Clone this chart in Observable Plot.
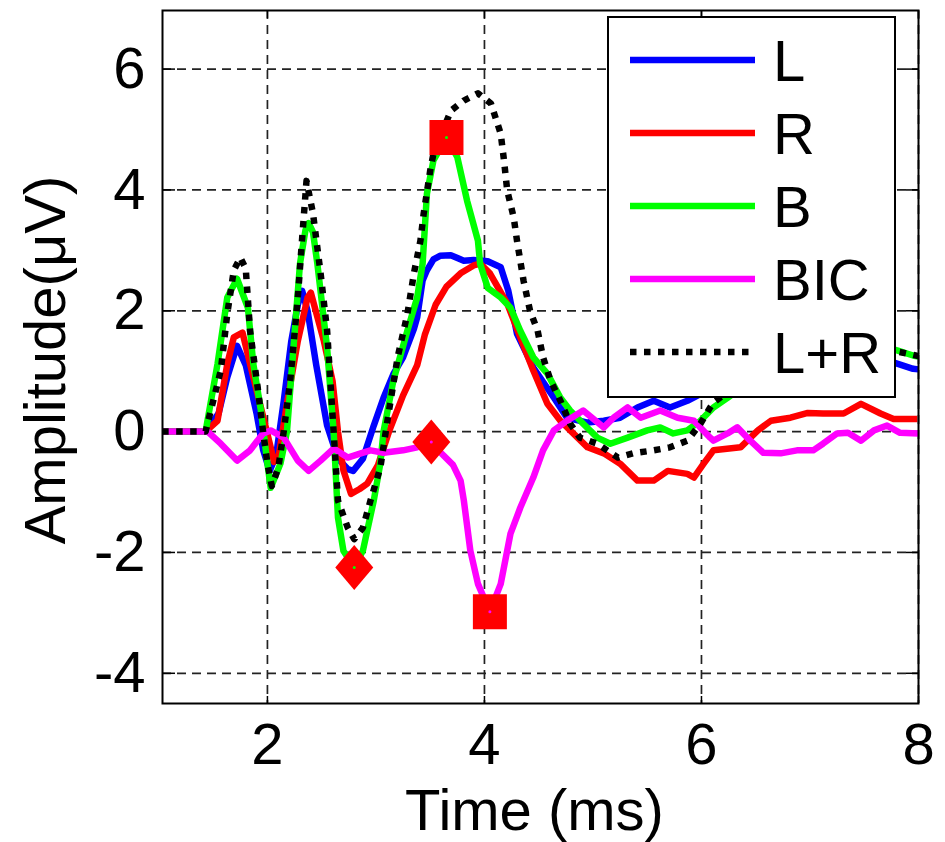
<!DOCTYPE html>
<html>
<head>
<meta charset="utf-8">
<script src="https://cdn.jsdelivr.net/npm/d3@7"></script>
<script src="https://cdn.jsdelivr.net/npm/@observablehq/plot@0.6"></script>
<style>
  html, body { margin: 0; padding: 0; background: white; }
  #wrap { position: relative; width: 945px; height: 842px; font-family: 'Liberation Sans', Arial, sans-serif; }
  #legend { position: absolute; left: 607px; top: 16px; width: 289px; height: 382px; box-sizing: border-box;
            border: 2px solid black; background: white; }
</style>
</head>
<body>
<div id="wrap"></div>
<script>
// ---- Data ----
const xTicks = [2, 4, 6, 8];
const yTicks = [-4, -2, 0, 2, 4, 6];
const xLabel = "Time (ms)";
const yLabel = "Amplitude(μV)";

const seriesNames = ["L", "R", "B", "BIC", "L+R"];
const seriesColors = ["#0000ff", "#ff0000", "#00ff00", "#ff00ff", "#000000"];

// L (blue)
const tL = [1.03, 1.43, 1.55, 1.63, 1.72, 1.80, 1.90, 1.96, 2.02, 2.08, 2.15, 2.22, 2.28, 2.32, 2.37, 2.45, 2.55, 2.65, 2.74, 2.79, 2.88, 2.98, 3.07, 3.16, 3.25, 3.35, 3.38, 3.43, 3.47, 3.53, 3.59, 3.69, 3.81, 3.90, 4.03, 4.15, 4.22, 4.30, 4.45, 4.64, 4.76, 4.95, 5.10, 5.25, 5.41, 5.56, 5.71, 5.87, 6.02, 6.3, 6.7, 7.1, 7.5, 7.81, 7.95, 8.0];
const vL = [0, 0, 0.3, 0.9, 1.42, 1.1, 0.3, -0.3, -0.65, -0.4, 0.5, 1.5, 2.1, 2.33, 2.0, 1.1, 0.1, -0.45, -0.62, -0.65, -0.45, 0.1, 0.56, 0.95, 1.23, 1.7, 1.89, 2.5, 2.67, 2.85, 2.91, 2.92, 2.83, 2.84, 2.82, 2.72, 2.33, 1.62, 1.06, 0.56, 0.23, 0.15, 0.18, 0.23, 0.4, 0.51, 0.4, 0.51, 0.65, 0.8, 1.0, 1.2, 1.3, 1.12, 1.04, 1.03];

// R (red)
const tR = [1.03, 1.43, 1.54, 1.63, 1.69, 1.77, 1.84, 1.94, 2.03, 2.06, 2.10, 2.18, 2.28, 2.37, 2.40, 2.46, 2.52, 2.60, 2.65, 2.70, 2.77, 2.85, 2.92, 3.02, 3.12, 3.25, 3.38, 3.45, 3.55, 3.65, 3.78, 3.90, 3.96, 4.05, 4.21, 4.33, 4.45, 4.58, 4.70, 4.79, 4.95, 5.10, 5.25, 5.41, 5.56, 5.69, 5.87, 5.93, 6.02, 6.11, 6.36, 6.52, 6.64, 6.82, 6.98, 7.12, 7.31, 7.47, 7.65, 7.77, 7.99];
const vR = [0, 0, 0.18, 1.12, 1.56, 1.64, 1.12, 0.4, -0.26, -0.5, -0.45, 0.46, 1.5, 2.22, 2.3, 1.9, 1.5, 0.84, 0, -0.64, -1.03, -0.95, -0.86, -0.55, 0, 0.6, 1.1, 1.6, 2.1, 2.4, 2.62, 2.75, 2.78, 2.62, 2.12, 1.56, 1.01, 0.46, 0.18, 0.02, -0.26, -0.36, -0.53, -0.81, -0.81, -0.65, -0.7, -0.76, -0.53, -0.31, -0.26, 0.02, 0.18, 0.23, 0.31, 0.3, 0.3, 0.46, 0.3, 0.21, 0.21];

// B (green)
const tB = [1.03, 1.43, 1.54, 1.63, 1.72, 1.82, 1.87, 1.94, 2.00, 2.03, 2.12, 2.18, 2.24, 2.30, 2.35, 2.38, 2.42, 2.46, 2.55, 2.61, 2.65, 2.70, 2.80, 2.88, 2.98, 3.04, 3.07, 3.16, 3.29, 3.38, 3.43, 3.47, 3.53, 3.65, 3.75, 3.84, 3.94, 3.96, 4.03, 4.15, 4.24, 4.33, 4.45, 4.58, 4.70, 4.79, 4.91, 5.04, 5.16, 5.32, 5.50, 5.62, 5.74, 5.87, 5.99, 6.11, 6.24, 6.5, 6.9, 7.3, 7.6, 7.81, 7.95, 8.0];
const vB = [0, 0, 1.12, 2.22, 2.53, 2.05, 1.12, 0.35, -0.53, -0.93, -0.53, 0, 1.39, 2.78, 3.33, 3.45, 3.3, 2.78, 1.39, 0, -1.42, -1.97, -2.25, -1.97, -1.14, -0.53, 0, 0.84, 1.67, 2.22, 2.78, 3.94, 4.49, 4.87, 4.54, 3.82, 3.16, 2.78, 2.38, 2.22, 2.05, 1.67, 1.23, 0.96, 0.56, 0.35, 0.13, -0.1, -0.2, -0.1, 0.02, 0.07, -0.03, 0.02, 0.18, 0.4, 0.56, 0.9, 1.2, 1.4, 1.45, 1.34, 1.26, 1.24];

// BIC (magenta)
const tBIC = [1.03, 1.45, 1.57, 1.72, 1.84, 1.96, 2.03, 2.15, 2.28, 2.38, 2.49, 2.61, 2.74, 2.86, 2.95, 3.07, 3.25, 3.38, 3.51, 3.57, 3.71, 3.78, 3.81, 3.87, 3.94, 4.05, 4.15, 4.24, 4.33, 4.45, 4.54, 4.64, 4.76, 4.91, 5.10, 5.19, 5.32, 5.44, 5.62, 5.78, 5.93, 6.08, 6.11, 6.24, 6.33, 6.45, 6.57, 6.73, 6.88, 7.03, 7.12, 7.25, 7.35, 7.47, 7.59, 7.71, 7.83, 8.0];
const vBIC = [0, 0, -0.2, -0.48, -0.31, -0.03, 0.02, -0.1, -0.48, -0.65, -0.48, -0.28, -0.43, -0.36, -0.31, -0.35, -0.31, -0.26, -0.17, -0.3, -0.55, -0.81, -1.14, -1.97, -2.52, -2.98, -2.52, -1.69, -1.26, -0.76, -0.31, 0.02, 0.18, 0.35, 0.07, 0.23, 0.4, 0.23, 0.35, 0.23, 0.18, -0.1, -0.15, -0.03, 0.07, -0.15, -0.35, -0.36, -0.31, -0.31, -0.2, -0.03, -0.02, -0.15, 0.02, 0.1, -0.02, -0.03];

// L+R (black dotted)
const tLR = [1.03, 1.43, 1.57, 1.63, 1.69, 1.75, 1.80, 1.84, 1.91, 1.96, 2.00, 2.04, 2.10, 2.15, 2.21, 2.28, 2.32, 2.36, 2.42, 2.49, 2.55, 2.61, 2.65, 2.74, 2.80, 2.88, 2.95, 3.04, 3.11, 3.20, 3.29, 3.35, 3.41, 3.44, 3.50, 3.53, 3.69, 3.81, 3.94, 4.06, 4.15, 4.18, 4.21, 4.27, 4.30, 4.36, 4.42, 4.49, 4.54, 4.61, 4.70, 4.79, 4.88, 5.04, 5.23, 5.37, 5.56, 5.71, 5.87, 5.99, 6.08, 6.11, 6.2, 6.5, 6.9, 7.3, 7.6, 7.9, 8.0];
const vLR = [0, 0, 1.01, 1.95, 2.67, 2.88, 2.7, 1.67, 0.73, 0, -0.53, -0.9, -0.6, 0, 0.84, 2.22, 3.2, 4.15, 3.61, 2.62, 1.67, 0, -1.14, -1.59, -1.78, -1.59, -1.14, -0.6, 0.23, 1.23, 1.95, 2.62, 3.16, 3.61, 4.32, 4.6, 5.31, 5.48, 5.6, 5.43, 4.93, 4.49, 3.99, 3.54, 3.16, 2.5, 2.0, 1.67, 1.23, 0.84, 0.51, 0.13, -0.1, -0.2, -0.43, -0.36, -0.31, -0.26, -0.15, 0.13, 0.4, 0.48, 0.6, 0.95, 1.2, 1.35, 1.4, 1.29, 1.25];

// Red markers
const squareT = [3.65, 4.05];
const squareV = [4.87, -2.98];
const squareDot = ["#00ff00", "#ff00ff"];
const diamondT = [2.80, 3.51];
const diamondV = [-2.25, -0.17];
const diamondDot = ["#00ff00", "#ff00ff"];

// ---- Build tables ----
const zip = (t, v) => t.map((x, i) => ({t: x, v: v[i]}));
const dL = zip(tL, vL), dR = zip(tR, vR), dB = zip(tB, vB), dBIC = zip(tBIC, vBIC), dLR = zip(tLR, vLR);
const squares = squareT.map((t, i) => ({t, v: squareV[i], c: squareDot[i]}));
const diamonds = diamondT.map((t, i) => ({t, v: diamondV[i], c: diamondDot[i]}));

const squareSymbol = { draw(ctx) { ctx.moveTo(-17, -17.5); ctx.lineTo(17, -17.5); ctx.lineTo(17, 17.5); ctx.lineTo(-17, 17.5); ctx.closePath(); } };
const diamondSymbol = { draw(ctx) { ctx.moveTo(0, -22.5); ctx.lineTo(19, 0); ctx.lineTo(0, 22.5); ctx.lineTo(-19, 0); ctx.closePath(); } };

const fmt = d => String(d);
const gridStyle = {stroke: "#222", strokeWidth: 1.7, strokeDasharray: "9,6"};
const lineStyle = {x: "t", y: "v", strokeWidth: 6.5, strokeLinejoin: "round", strokeLinecap: "butt"};

const chart = Plot.plot({
  width: 945,
  height: 842,
  marginLeft: 162,
  marginRight: 27,
  marginTop: 10,
  marginBottom: 139,
  x: {domain: [1.033, 8], ticks: xTicks},
  y: {domain: [-4.5, 6.97], ticks: yTicks},
  style: {fontFamily: "'Liberation Sans', Arial, sans-serif", fontSize: "58px", background: "white", color: "black"},
  marks: [
    Plot.ruleX(xTicks, gridStyle),
    Plot.ruleY(yTicks, gridStyle),
    Plot.axisX({anchor: "bottom", ticks: xTicks, tickFormat: fmt, tickSize: 0, tickPadding: 19, label: null, fontSize: 58}),
    Plot.axisY({anchor: "left", ticks: yTicks, tickFormat: fmt, tickSize: 0, tickPadding: 17, label: null, fontSize: 58}),
    Plot.axisY({anchor: "left", ticks: yTicks, tickSize: 13, dx: 13, fill: "none", label: null, strokeWidth: 1.5}),
    Plot.axisY({anchor: "right", ticks: yTicks, tickSize: 13, dx: -13, fill: "none", label: null, strokeWidth: 1.5}),
    Plot.axisX({anchor: "top", ticks: xTicks, tickSize: 7, dy: 7, fill: "none", label: null, strokeWidth: 1.5}),
    Plot.axisX({anchor: "bottom", ticks: xTicks, tickSize: 7, dy: -7, fill: "none", label: null, strokeWidth: 1.5}),
    Plot.line(dL, {...lineStyle, stroke: seriesColors[0]}),
    Plot.line(dR, {...lineStyle, stroke: seriesColors[1]}),
    Plot.line(dB, {...lineStyle, stroke: seriesColors[2]}),
    Plot.line(dBIC, {...lineStyle, stroke: seriesColors[3]}),
    Plot.line(dLR, {...lineStyle, stroke: seriesColors[4], strokeDasharray: "6.5,7.5"}),
    Plot.dot(squares, {x: "t", y: "v", symbol: squareSymbol, fill: "#ff0000", stroke: "none"}),
    Plot.dot(diamonds, {x: "t", y: "v", symbol: diamondSymbol, fill: "#ff0000", stroke: "none"}),
    Plot.dot(squares, {x: "t", y: "v", r: 1.5, fill: "c", stroke: "none"}),
    Plot.dot(diamonds, {x: "t", y: "v", r: 1.5, fill: "c", stroke: "none"}),
    Plot.frame({stroke: "black", strokeWidth: 2}),
    Plot.text([xLabel], {text: d => d, frameAnchor: "bottom", textAnchor: "middle", dy: 108, dx: -6, lineAnchor: "middle", fontSize: 58}),
    Plot.text([yLabel], {text: d => d, frameAnchor: "left", textAnchor: "middle", rotate: -90, dx: -116, dy: 3, lineAnchor: "middle", fontSize: 58})
  ]
});

const wrap = document.getElementById("wrap");
wrap.appendChild(chart);

// Legend (drawn inside the axes, top right, as in the reference)
const legend = document.createElement("div");
legend.id = "legend";
const ns = "http://www.w3.org/2000/svg";
const lsvg = document.createElementNS(ns, "svg");
lsvg.setAttribute("width", 285);
lsvg.setAttribute("height", 378);
lsvg.style.display = "block";
seriesNames.forEach((name, i) => {
  const cy = 42 + i * 73;
  const ln = document.createElementNS(ns, "line");
  ln.setAttribute("x1", 21); ln.setAttribute("x2", 146);
  ln.setAttribute("y1", cy); ln.setAttribute("y2", cy);
  ln.setAttribute("stroke", seriesColors[i]);
  ln.setAttribute("stroke-width", 6.5);
  if (name === "L+R") ln.setAttribute("stroke-dasharray", "6.5,7.5");
  lsvg.appendChild(ln);
  const tx = document.createElementNS(ns, "text");
  tx.setAttribute("x", 164);
  tx.setAttribute("y", cy + 21);
  tx.setAttribute("font-size", 58);
  tx.setAttribute("font-family", "'Liberation Sans', Arial, sans-serif");
  tx.setAttribute("fill", "black");
  tx.textContent = name;
  lsvg.appendChild(tx);
});
legend.appendChild(lsvg);
wrap.appendChild(legend);
</script>
</body>
</html>
